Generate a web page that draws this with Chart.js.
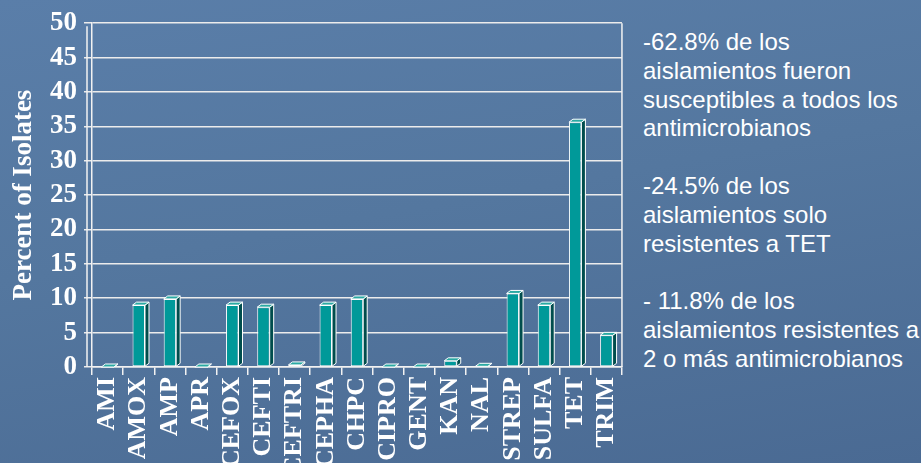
<!DOCTYPE html>
<html>
<head>
<meta charset="utf-8">
<script src="https://cdn.jsdelivr.net/npm/chart.js@4.4.1/dist/chart.umd.min.js"></script>
<style>
  html, body { margin: 0; padding: 0; width: 921px; height: 463px; overflow: hidden; }
  body {
    background: linear-gradient(170deg, #5a7ea9 0%, #54779f 45%, #4a6a93 100%);
    position: relative;
  }
  #chartBox { position: absolute; left: 0; top: 0; width: 640px; height: 463px; }
  #notes {
    position: absolute; left: 643px; top: 28px;
    font-family: "Liberation Sans", Arial, sans-serif;
    font-size: 24px; line-height: 28.8px; color: #ffffff;
    white-space: nowrap;
  }
</style>
</head>
<body>
<div id="chartBox"><canvas id="chart"></canvas></div>
<div id="notes">
  -62.8% de los<br>aislamientos fueron<br>susceptibles a todos los<br>antimicrobianos<br><br>
  -24.5% de los<br>aislamientos solo<br>resistentes a TET<br><br>
  - 11.8% de los<br>aislamientos resistentes a<br>2 o más antimicrobianos
</div>
<script>
// datos del gráfico
const drugs = ['AMI', 'AMOX', 'AMP', 'APR', 'CEFOX', 'CEFTI', 'CEFTRI', 'CEPHA', 'CHPC',
               'CIPRO', 'GENT', 'KAN', 'NAL', 'STREP', 'SULFA', 'TET', 'TRIM'];
const percentIsolates = [0, 9.0, 9.9, 0, 9.0, 8.7, 0.3, 9.0, 9.9, 0, 0, 0.9, 0.1, 10.7, 9.0, 35.6, 4.6];
const yTitle = 'Percent of Isolates';

const SERIF = '"Liberation Serif", "Times New Roman", serif';

// caras laterales y superiores para el efecto 3D
const bars3d = {
    id: 'bars3d',
    afterDatasetsDraw(chart) {
        const ctx = chart.ctx;
        const area = chart.chartArea;
        const dx = 4, dy = 3;
        ctx.save();
        // pared derecha y eje frontal
        ctx.strokeStyle = '#f2f2f2';
        ctx.lineWidth = 1.5;
        ctx.beginPath();
        ctx.moveTo(area.right, area.top);
        ctx.lineTo(area.right, area.bottom);
        ctx.moveTo(area.left - 5, area.top + 3);
        ctx.lineTo(area.left - 5, area.bottom);
        ctx.stroke();

        chart.getDatasetMeta(0).data.forEach(bar => {
            const p = bar.getProps(['x', 'y', 'base', 'width'], true);
            const l = p.x - p.width / 2, r = p.x + p.width / 2;
            ctx.lineWidth = 1;
            ctx.strokeStyle = '#ffffff';
            // lado
            ctx.beginPath();
            ctx.moveTo(r, p.y);
            ctx.lineTo(r + dx, p.y - dy);
            ctx.lineTo(r + dx, p.base - dy);
            ctx.lineTo(r, p.base);
            ctx.closePath();
            ctx.fillStyle = '#004d4d';
            ctx.fill();
            ctx.stroke();
            // tapa
            ctx.beginPath();
            ctx.moveTo(l, p.y);
            ctx.lineTo(l + dx, p.y - dy);
            ctx.lineTo(r + dx, p.y - dy);
            ctx.lineTo(r, p.y);
            ctx.closePath();
            ctx.fillStyle = '#2aa9a3';
            ctx.fill();
            ctx.stroke();
        });
        ctx.restore();
    }
};

const ctx = document.getElementById('chart').getContext('2d');
new Chart(ctx, {
    type: 'bar',
    data: {
        labels: drugs,
        datasets: [{
            data: percentIsolates,
            backgroundColor: '#009999',
            borderColor: '#ffffff',
            borderWidth: 1,
            borderSkipped: false,
            barPercentage: 0.4,
            categoryPercentage: 1.0
        }]
    },
    options: {
        responsive: true,
        maintainAspectRatio: false,
        animation: false,
        layout: { padding: { top: 21, right: 15, left: 0, bottom: 0 } },
        plugins: {
            legend: { display: false },
            tooltip: { enabled: false }
        },
        scales: {
            x: {
                afterFit: scale => { scale.height = 96; },
                grid: {
                    display: true,
                    drawOnChartArea: false,
                    drawTicks: true,
                    tickLength: 8,
                    color: '#f2f2f2',
                    lineWidth: 1.5
                },
                border: { display: true, color: '#f2f2f2', width: 1.5 },
                ticks: {
                    autoSkip: false,
                    minRotation: 90,
                    maxRotation: 90,
                    padding: 2,
                    color: '#ffffff',
                    font: { family: SERIF, size: 26, weight: 'bold' }
                }
            },
            y: {
                min: 0,
                max: 50,
                afterFit: scale => { scale.width = 92; },
                grid: {
                    color: '#ececec',
                    lineWidth: 1.5,
                    tickLength: 8
                },
                border: { display: true, color: '#f2f2f2', width: 1.5 },
                ticks: {
                    stepSize: 5,
                    autoSkip: false,
                    padding: 7,
                    color: '#ffffff',
                    font: { family: SERIF, size: 27, weight: 'bold' }
                },
                title: {
                    display: true,
                    text: yTitle,
                    color: '#ffffff',
                    padding: { top: 8, bottom: 0 },
                    font: { family: SERIF, size: 27, weight: 'bold', lineHeight: 1.2 }
                }
            }
        }
    },
    plugins: [bars3d]
});
</script>
</body>
</html>
